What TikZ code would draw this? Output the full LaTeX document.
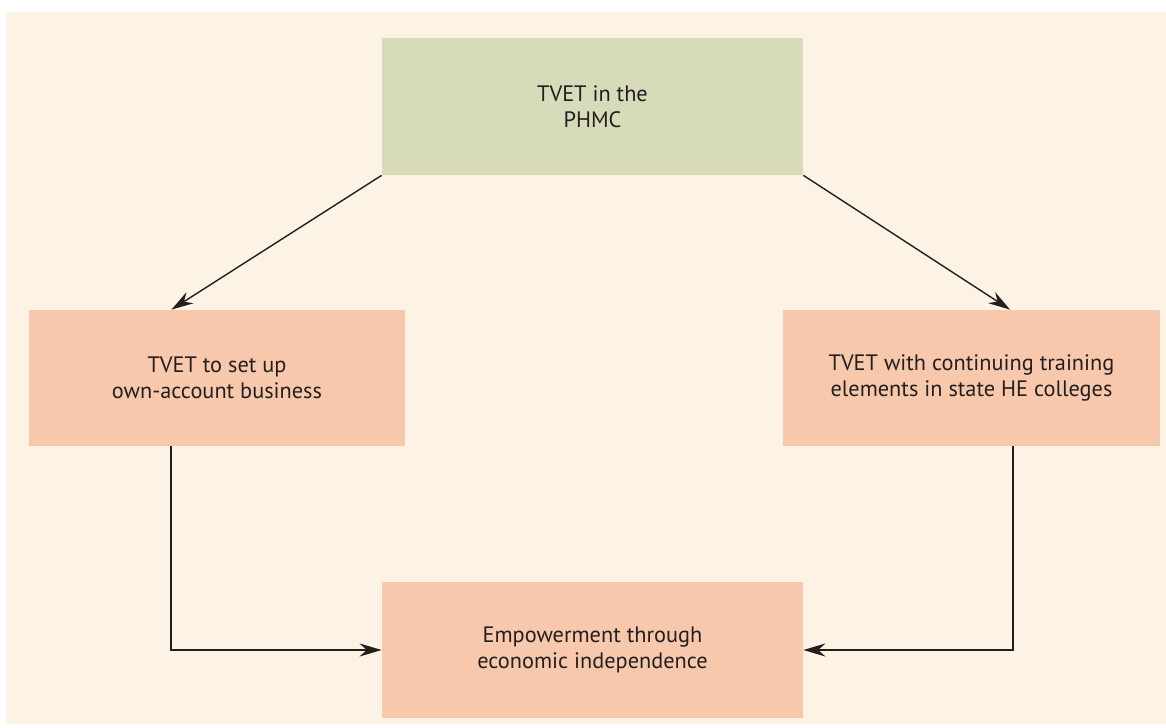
\documentclass[tikz,border=0pt]{standalone}
\usepackage{fontspec}
\setmainfont{PT Sans}
\usepackage{xcolor}
\usetikzlibrary{arrows.meta}
\definecolor{paper}{HTML}{FCF3E4}
\definecolor{sage}{HTML}{D7DBB9}
\definecolor{peach}{HTML}{F7C8AB}
\definecolor{ink}{HTML}{231F20}
\tikzset{
  box/.style={fill=peach, minimum width=7.53cm, minimum height=2.72cm, align=center, text=ink, font=\fontsize{12.7}{15}\selectfont},
  link/.style={draw=ink, line width=1.1pt, >={Stealth[length=4.4mm, width=2.6mm]}, ->}
}
\begin{document}
\begin{tikzpicture}

\useasboundingbox (0,0) rectangle (23.32,14.54);
\fill[white] (0,0) rectangle (23.32,14.54);
\fill[paper] (0.12,0.06) rectangle (23.32,14.3);

\node[box, fill=sage, minimum width=8.42cm, minimum height=2.74cm] (phmc) at (11.85,12.41) {TVET in the\\PHMC};

\node[box] (own) at (4.34,6.98) {TVET to set up\\own-account business};

\node[box] (cont) at (19.43,6.98) {TVET with continuing training\\elements in state HE colleges};

\node[box, minimum width=8.42cm] (empower) at (11.85,1.54) {Empowerment through\\economic independence};

\draw [link, line width=0.8pt] (phmc.south west) -- ([xshift=2.86cm]own.north west);
\draw [link, line width=0.8pt] (phmc.south east) -- ([xshift=-3cm]cont.north east);

\draw [link] ([xshift=2.86cm]own.south west) |- (empower.west);
\draw [link] ([xshift=-2.94cm]cont.south east) |- (empower.east);

\end{tikzpicture}
\end{document}
